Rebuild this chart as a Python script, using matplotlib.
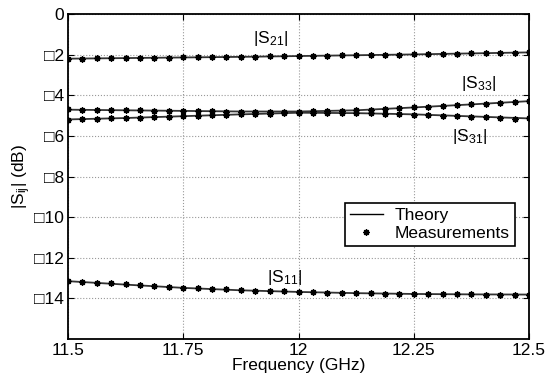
import matplotlib
matplotlib.use('Agg')
import matplotlib.pyplot as plt
import numpy as np

plt.rcParams['font.family'] = ['Liberation Sans', 'DejaVu Sans']
plt.rcParams['mathtext.fontset'] = 'custom'
plt.rcParams['mathtext.rm'] = 'Liberation Sans'
plt.rcParams['mathtext.it'] = 'Liberation Sans'

# theory curves (knots every 0.125 GHz)
f_theory = [11.5, 11.625, 11.75, 11.875, 12.0, 12.125, 12.25, 12.375, 12.5]
s21_theory = [-2.20, -2.17, -2.14, -2.11, -2.07, -2.03, -1.99, -1.94, -1.89]
s33_theory = [-4.71, -4.74, -4.77, -4.80, -4.80, -4.74, -4.60, -4.45, -4.29]
s31_theory = [-5.19, -5.12, -5.03, -4.94, -4.86, -4.88, -4.94, -5.04, -5.14]
s11_theory = [-13.15, -13.32, -13.48, -13.60, -13.68, -13.74, -13.78, -13.80, -13.81]

# measurements (33 points, 11.5 .. 12.5 GHz)
f_meas = np.linspace(11.5, 12.5, 33)
s21_meas = [-2.21, -2.20, -2.19, -2.18, -2.17, -2.16, -2.16, -2.15, -2.14, -2.13, -2.12,
            -2.11, -2.11, -2.10, -2.09, -2.08, -2.07, -2.06, -2.05, -2.04, -2.03, -2.02,
            -2.01, -2.00, -1.99, -1.98, -1.97, -1.95, -1.94, -1.93, -1.92, -1.90, -1.89]
s33_meas = [-4.70, -4.71, -4.72, -4.73, -4.74, -4.75, -4.76, -4.76, -4.77, -4.78, -4.79,
            -4.80, -4.81, -4.81, -4.82, -4.81, -4.80, -4.79, -4.78, -4.76, -4.74, -4.71,
            -4.67, -4.64, -4.60, -4.56, -4.52, -4.49, -4.45, -4.41, -4.37, -4.33, -4.29]
s31_meas = [-5.20, -5.18, -5.16, -5.14, -5.12, -5.10, -5.07, -5.05, -5.03, -5.01, -4.98,
            -4.96, -4.94, -4.92, -4.90, -4.88, -4.86, -4.86, -4.87, -4.87, -4.88, -4.89,
            -4.91, -4.93, -4.95, -4.97, -5.00, -5.03, -5.05, -5.08, -5.11, -5.15, -5.14]
s11_meas = [-13.15, -13.18, -13.22, -13.26, -13.30, -13.34, -13.38, -13.43, -13.47, -13.50,
            -13.53, -13.56, -13.59, -13.61, -13.63, -13.65, -13.67, -13.69, -13.71, -13.72,
            -13.74, -13.75, -13.76, -13.77, -13.78, -13.79, -13.79, -13.80, -13.80, -13.81,
            -13.82, -13.81, -13.81]

xticks = [11.5, 11.75, 12, 12.25, 12.5]
xticklabels = ['11.5', '11.75', '12', '12.25', '12.5']
yticks = [0, -2, -4, -6, -8, -10, -12, -14]
yticklabels = ['0', '\u25a12', '\u25a14', '\u25a16', '\u25a18', '\u25a110', '\u25a112', '\u25a114']

fs = 12.5
fig = plt.figure(figsize=(5.54, 3.78), dpi=100)
ax = fig.add_axes([0.1227, 0.103, 0.8323, 0.860])

lc = '#333333'
mk = (8, 2, 0)
for th in [s21_theory, s33_theory, s31_theory, s11_theory]:
    ax.plot(f_theory, th, color=lc, lw=1.3)
for ms in [s21_meas, s33_meas, s31_meas, s11_meas]:
    ax.plot(f_meas, ms, ls='none', marker=mk, color='black', ms=4.5, mew=1.0)

# legend handles
ax.plot([], [], color='black', lw=1.0, label='Theory')
ax.plot([], [], ls='none', marker=mk, color='black', ms=4.5, mew=1.0, label='Measurements')
h, l = ax.get_legend_handles_labels()
leg = ax.legend(h, l, loc='lower right', bbox_to_anchor=(0.970, 0.286), fontsize=fs,
                frameon=True, fancybox=False, edgecolor='black', framealpha=1,
                borderpad=0.3, labelspacing=0.15, handlelength=1.9, handletextpad=0.7,
                borderaxespad=0)
leg.get_frame().set_linewidth(1.2)

ax.text(11.94, -1.2, '|S$_{21}$|', fontsize=fs, ha='center', va='center')
ax.text(12.39, -3.4, '|S$_{33}$|', fontsize=fs, ha='center', va='center')
ax.text(12.37, -6.05, '|S$_{31}$|', fontsize=fs, ha='center', va='center')
ax.text(11.97, -12.95, '|S$_{11}$|', fontsize=fs, ha='center', va='center')

ax.set_xlim(11.5, 12.5)
ax.set_ylim(-16, 0)
ax.set_xticks(xticks)
ax.set_xticklabels(xticklabels)
ax.set_yticks(yticks)
ax.set_yticklabels(yticklabels)
ax.tick_params(direction='in', labelsize=fs, length=4, top=True, right=True, pad=3)
ax.grid(True, ls=':', color='#999999', lw=0.8)
for sp in ax.spines.values():
    sp.set_linewidth(1.3)

ax.set_xlabel('Frequency (GHz)', fontsize=fs, labelpad=0)
ax.set_ylabel('|S$_{ij}$| (dB)', fontsize=fs, labelpad=1)

fig.savefig('out.png', dpi=100)
